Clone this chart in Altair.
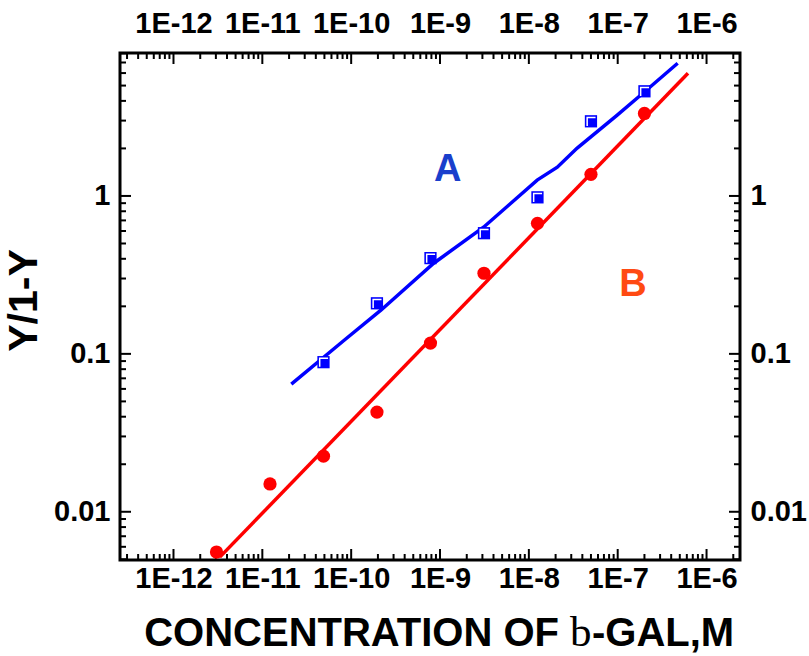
import altair as alt
import pandas as pd

# ---- data ----
conc_b = [3.05e-12, 1.22e-11, 4.88e-11, 1.95e-10, 7.81e-10, 3.125e-9, 1.25e-8, 5e-8, 2e-7]
ratio_b = [0.00556, 0.0150, 0.0225, 0.0428, 0.117, 0.324, 0.671, 1.37, 3.33]
conc_a = [4.88e-11, 1.95e-10, 7.81e-10, 3.125e-9, 1.25e-8, 5e-8, 2e-7]
ratio_a = [0.0886, 0.209, 0.404, 0.581, 0.98, 2.97, 4.60]
fit_a_x = [2.12e-11, 8.34e-11, 2.16e-10, 8.5e-10, 3.09e-9, 1.24e-8, 2.09e-8, 3.5e-8, 9.8e-8, 1.92e-7, 4.73e-7]
fit_a_y = [0.0643, 0.122, 0.189, 0.375, 0.634, 1.26, 1.52, 2.01, 3.24, 4.47, 6.92]
fit_b_x = [3.32e-12, 6.18e-7]
fit_b_y = [0.00516, 5.98]
label_text = ["A", "B"]
label_x = [1.22e-9, 1.49e-7]
label_y = [1.45, 0.272]
x_decades = [1e-12, 1e-11, 1e-10, 1e-9, 1e-8, 1e-7, 1e-6]
y_decades = [0.01, 0.1, 1]
x_domain = [2.5e-13, 2.38e-6]
y_domain = [0.00495, 8.04]
x_title_parts = ["CONCENTRATION OF", "b", "-GAL,M"]

x_minor = [m * 10.0 ** e for e in range(-13, -5) for m in range(2, 10)
           if x_domain[0] < m * 10.0 ** e < x_domain[1]]
y_minor = [m * 10.0 ** e for e in range(-3, 1) for m in range(2, 10)
           if y_domain[0] < m * 10.0 ** e < y_domain[1]]

W, H = 620, 507
FONT = "Liberation Sans"
SERIF = "Liberation Serif"

xs = alt.Scale(type="log", domain=x_domain, nice=False)
ys = alt.Scale(type="log", domain=y_domain, nice=False)

df_a = pd.DataFrame({"x": conc_a, "y": ratio_a})
df_b = pd.DataFrame({"x": conc_b, "y": ratio_b})
df_fa = pd.DataFrame({"x": fit_a_x, "y": fit_a_y})
df_fb = pd.DataFrame({"x": fit_b_x, "y": fit_b_y})
df_lab = pd.DataFrame({"t": label_text, "x": label_x, "y": label_y})

ax_common = dict(grid=False, ticks=False, domain=False, labelFont=FONT,
                 labelFontWeight="bold", labelFontSize=29, labelColor="black")

x_bottom = alt.Axis(orient="bottom", values=x_decades,
                    labelExpr="'1E' + round(log(datum.value)/LN10)",
                    labelPadding=4, title=None, **ax_common)
x_top = alt.Axis(orient="top", values=x_decades,
                 labelExpr="'1E' + round(log(datum.value)/LN10)",
                 labelPadding=15, title=None, **ax_common)
y_left = alt.Axis(orient="left", values=y_decades, format="~g",
                  labelPadding=10, title="Y/1-Y", titleFont=FONT,
                  titleFontWeight="bold", titleFontSize=41, titlePadding=8,
                  titleY=247, titleColor="black", **ax_common)
y_right = alt.Axis(orient="right", values=y_decades, format="~g",
                   labelPadding=10, title=None, **ax_common)

line_b = alt.Chart(df_fb).mark_line(color="#ff0000", strokeWidth=3.5).encode(
    x=alt.X("x:Q", scale=xs, axis=x_bottom),
    y=alt.Y("y:Q", scale=ys, axis=y_left))
line_a = alt.Chart(df_fa).mark_line(color="#0000ff", strokeWidth=3.5).encode(
    x=alt.X("x:Q", scale=xs, axis=x_top),
    y=alt.Y("y:Q", scale=ys, axis=y_right))

pts_b = alt.Chart(df_b).mark_point(shape="circle", filled=True, size=175,
                                   color="#ff0000", opacity=1).encode(
    x=alt.X("x:Q", scale=xs, axis=None), y=alt.Y("y:Q", scale=ys, axis=None))
pts_a = alt.Chart(df_a).mark_point(shape="square", filled=True, size=150,
                                   color="#0000ff", opacity=1).encode(
    x=alt.X("x:Q", scale=xs, axis=None), y=alt.Y("y:Q", scale=ys, axis=None))
pts_a_hl = alt.Chart(df_a).mark_point(
    shape="M -0.62 0.75 L -0.62 -0.62 L 0.75 -0.62", filled=False, size=150,
    stroke="white", strokeWidth=1.5, opacity=1).encode(
    x=alt.X("x:Q", scale=xs, axis=None), y=alt.Y("y:Q", scale=ys, axis=None))

labels = alt.Chart(df_lab).mark_text(font=FONT, fontWeight="bold", fontSize=38,
                                     baseline="middle", align="center").encode(
    x=alt.X("x:Q", scale=xs, axis=None), y=alt.Y("y:Q", scale=ys, axis=None),
    text="t:N",
    color=alt.Color("t:N", scale=alt.Scale(domain=label_text,
                                           range=["#1a3fcc", "#ff4a12"]),
                    legend=None))

# x-axis title, with the serif "b" (beta rendered through a Symbol font fallback)
TY = 593
t1 = alt.Chart().mark_text(text=x_title_parts[0], font=FONT, fontWeight="bold",
                           fontSize=40, align="right", baseline="alphabetic",
                           color="black").encode(x=alt.value(439), y=alt.value(TY))
t2 = alt.Chart().mark_text(text=x_title_parts[1], font=SERIF, fontWeight="normal",
                           fontSize=43, align="left", baseline="alphabetic",
                           color="black").encode(x=alt.value(450), y=alt.value(TY))
t3 = alt.Chart().mark_text(text=x_title_parts[2], font=FONT, fontWeight="bold",
                           fontSize=40, align="left", baseline="alphabetic",
                           color="black").encode(x=alt.value(472), y=alt.value(TY))


def xtick(vals, y0, y1):
    return alt.Chart(pd.DataFrame({"v": vals})).mark_rule(
        color="black", strokeWidth=2).encode(
        x=alt.X("v:Q", scale=xs, axis=None), y=alt.value(y0), y2=alt.value(y1))


def ytick(vals, x0, x1):
    return alt.Chart(pd.DataFrame({"v": vals})).mark_rule(
        color="black", strokeWidth=2).encode(
        y=alt.Y("v:Q", scale=ys, axis=None), x=alt.value(x0), x2=alt.value(x1))


MAJ, MIN = 11, 6
ticks = [
    xtick(x_decades, 0, MAJ), xtick(x_minor, 0, MIN),
    xtick(x_decades, H, H - MAJ), xtick(x_minor, H, H - MIN),
    ytick(y_decades, 0, MAJ), ytick(y_minor, 0, MIN),
    ytick(y_decades, W, W - MAJ), ytick(y_minor, W, W - MIN),
]

chart = alt.layer(line_b, line_a, *ticks, pts_b, pts_a, pts_a_hl, labels,
                  t1, t2, t3).resolve_axis(
    x="independent", y="independent"
).properties(
    width=W, height=H,
    autosize=alt.AutoSizeParams(type="none"),
    padding={"left": 120, "top": 53, "right": 809 - 120 - W, "bottom": 656 - 53 - H},
    background="white",
).configure_view(stroke="black", strokeWidth=3)

chart.save("out.html", embed_options={"renderer": "svg", "actions": False})
